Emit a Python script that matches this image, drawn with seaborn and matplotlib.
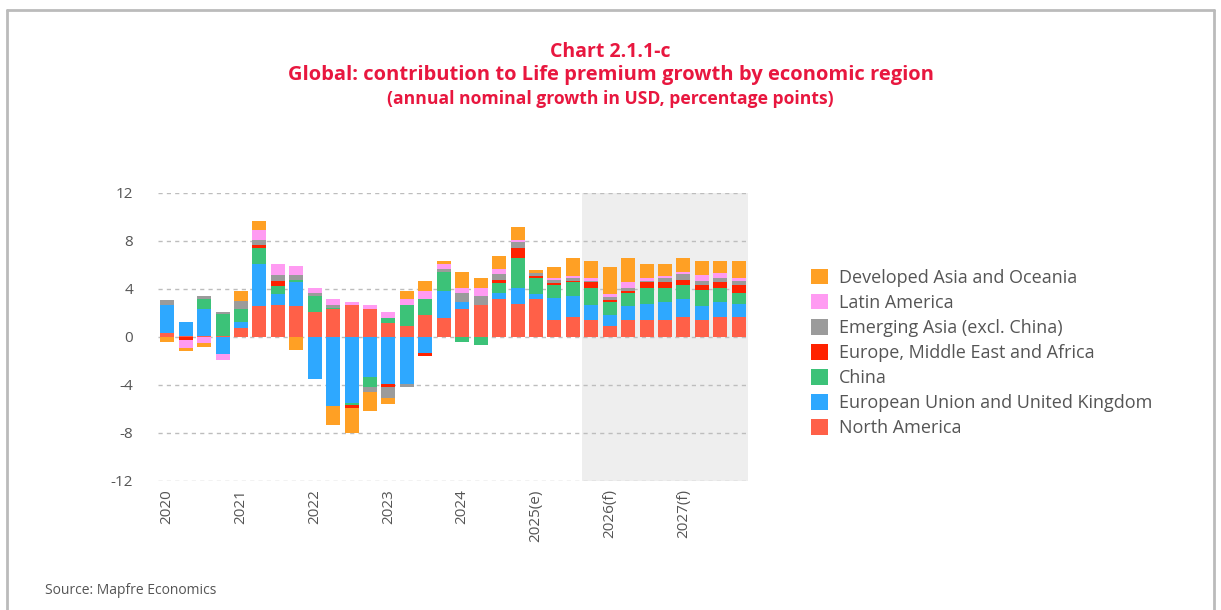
import numpy as np
import pandas as pd
import matplotlib
matplotlib.use("Agg")
import matplotlib.pyplot as plt
from matplotlib.patches import Patch
from matplotlib.lines import Line2D
import seaborn as sns

# Quarterly periods 2020Q1 .. 2027Q4
quarters = [f"{y}Q{q}" for y in range(2020, 2028) for q in range(1, 5)]
year_labels = ["2020", "2021", "2022", "2023", "2024", "2025(e)", "2026(f)", "2027(f)"]

# Contributions (percentage points) by region
north_america = [0.30, 0.05, 0.10, 0.05, 0.75, 2.55, 2.70, 2.60,
                 2.05, 2.30, 2.70, 2.30, 1.20, 0.95, 1.85, 1.60,
                 2.30, 2.70, 3.20, 2.75, 3.20, 1.40, 1.65, 1.40,
                 0.95, 1.40, 1.40, 1.40, 1.65, 1.40, 1.65, 1.65]
eu_uk = [2.40, 1.20, 2.20, -1.40, 0.50, 3.50, 0.90, 2.00,
         -3.50, -5.75, -5.50, -3.30, -3.95, -3.95, -1.30, 2.20,
         0.65, 0.00, 0.45, 1.30, 0.40, 1.85, 1.75, 1.30,
         0.85, 1.15, 1.35, 1.55, 1.50, 1.15, 1.30, 1.10]
china = [0.00, 0.00, 0.85, 1.85, 1.10, 1.35, 0.65, 0.15,
         1.35, 0.15, -0.15, -0.90, 0.40, 1.75, 1.35, 1.60,
         -0.45, -0.65, 0.85, 2.50, 1.35, 1.05, 1.15, 1.35,
         1.15, 1.10, 1.30, 1.10, 1.15, 1.35, 1.10, 0.90]
emea = [0.00, -0.25, 0.00, 0.00, 0.00, 0.25, 0.45, 0.00,
        0.00, 0.00, -0.25, 0.00, -0.25, 0.00, -0.25, 0.00,
        0.00, 0.00, 0.25, 0.85, 0.15, 0.20, 0.15, 0.50,
        0.15, 0.15, 0.50, 0.50, 0.45, 0.40, 0.50, 0.65]
emerging_asia = [0.40, 0.00, 0.25, 0.20, 0.65, 0.40, 0.50, 0.40,
                 0.25, 0.25, 0.00, -0.40, -0.90, -0.25, 0.00, 0.25,
                 0.70, 0.70, 0.50, 0.50, 0.25, 0.25, 0.25, 0.15,
                 0.25, 0.25, 0.15, 0.40, 0.50, 0.40, 0.40, 0.40]
latin_america = [0.00, -0.70, -0.50, -0.50, 0.00, 0.90, 0.85, 0.75,
                 0.40, 0.50, 0.25, 0.40, 0.45, 0.50, 0.65, 0.40,
                 0.40, 0.65, 0.40, 0.15, 0.00, 0.15, 0.15, 0.25,
                 0.25, 0.50, 0.25, 0.15, 0.15, 0.50, 0.40, 0.25]
developed_asia = [-0.40, -0.25, -0.30, 0.00, 0.85, 0.70, 0.00, -1.10,
                  0.00, -1.60, -2.10, -1.55, -0.45, 0.65, 0.85, 0.25,
                  1.35, 0.90, 1.10, 1.15, 0.25, 0.95, 1.45, 1.35,
                  2.20, 2.00, 1.10, 0.95, 1.15, 1.10, 0.95, 1.35]

series = [
    ("North America", north_america, "#FF6048"),
    ("European Union and United Kingdom", eu_uk, "#2EA8FF"),
    ("China", china, "#3CC278"),
    ("Europe, Middle East and Africa", emea, "#FF2200"),
    ("Emerging Asia (excl. China)", emerging_asia, "#9B9B9B"),
    ("Latin America", latin_america, "#FF9BF2"),
    ("Developed Asia and Oceania", developed_asia, "#FFA024"),
]

sns.set_theme(style="white")
plt.rcParams["font.family"] = ["Open Sans", "DejaVu Sans"]

fig = plt.figure(figsize=(12.21, 6.10), dpi=100)
ax = fig.add_axes([158 / 1221, 1 - 481 / 610, 590 / 1221, 288 / 610])

# Forecast period shading
ax.axvspan(22.5, 31.5, color="#EEEEEE", zorder=0, lw=0)

pos_base = np.zeros(len(quarters))
neg_base = np.zeros(len(quarters))
for name, vals, col in series:
    v = np.asarray(vals, dtype=float)
    bottom = np.where(v >= 0, pos_base, neg_base)
    df = pd.DataFrame({"period": quarters, "value": v})
    sns.barplot(data=df, x="period", y="value", order=quarters, color=col,
                saturation=1, width=0.76, errorbar=None, bottom=bottom,
                linewidth=0, ax=ax, zorder=3)
    pos_base = pos_base + np.clip(v, 0, None)
    neg_base = neg_base + np.clip(v, None, 0)

ax.set_xlim(-0.5, 31.5)
ax.set_ylim(-12, 12)
ax.set_yticks(np.arange(-12, 13, 4))
ax.set_yticklabels([str(t) for t in range(-12, 13, 4)])
ax.set_xticks(np.arange(0, 32, 4))
ax.set_xticklabels(year_labels, rotation=90)
ax.set_xlabel("")
ax.set_ylabel("")
ax.yaxis.grid(True, linestyle=(0, (3, 3)), color="#BDBDBD", linewidth=1, zorder=1)
ax.xaxis.grid(False)
ax.set_axisbelow(True)
for s in ax.spines.values():
    s.set_visible(False)
ax.tick_params(axis="both", length=0, labelsize=11, colors="#555555", pad=6)
ax.tick_params(axis="y", pad=18)
for lab in ax.get_yticklabels():
    lab.set_horizontalalignment("right")

# Legend, top entry = top of stack
handles = [Patch(facecolor=c, edgecolor="none", label=n) for n, _, c in reversed(series)]
fig.legend(handles=handles, loc="center left", bbox_to_anchor=(795 / 1221, 1 - 353 / 610),
           frameon=False, fontsize=13, handlelength=0.95, handleheight=0.95,
           handletextpad=0.6, labelspacing=0.39, labelcolor="#555555")

red = "#E8173F"
fig.text(0.5, 1 - 52 / 610, "Chart 2.1.1-c", ha="center", va="center",
         color=red, fontsize=14, fontweight="bold")
fig.text(0.5, 1 - 75 / 610, "Global: contribution to Life premium growth by economic region",
         ha="center", va="center", color=red, fontsize=14.5, fontweight="bold")
fig.text(0.5, 1 - 99 / 610, "(annual nominal growth in USD, percentage points)",
         ha="center", va="center", color=red, fontsize=12.6, fontweight="bold")
fig.text(45 / 1221, 1 - 590 / 610, "Source: Mapfre Economics", ha="left", va="center",
         color="#555555", fontsize=10)

# Frame around the panel (open at the bottom)
frame_col = "#BBBBBB"
fig.add_artist(Line2D([7 / 1221, 1214 / 1221], [1 - 10 / 610, 1 - 10 / 610],
                      transform=fig.transFigure, color=frame_col, lw=2))
fig.add_artist(Line2D([7 / 1221, 7 / 1221], [0, 1 - 10 / 610],
                      transform=fig.transFigure, color=frame_col, lw=2))
fig.add_artist(Line2D([1214 / 1221, 1214 / 1221], [0, 1 - 10 / 610],
                      transform=fig.transFigure, color=frame_col, lw=2))

fig.savefig("out.png", dpi=100)
